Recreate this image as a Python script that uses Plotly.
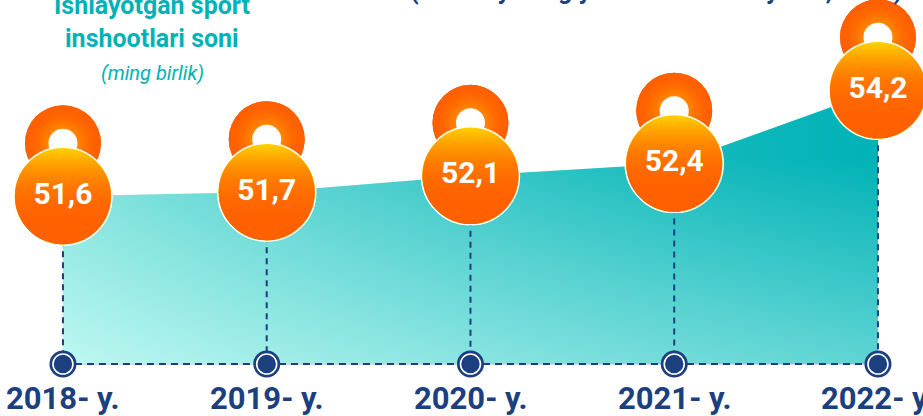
import plotly.graph_objects as go

years = ["2018- y.", "2019- y.", "2020- y.", "2021- y.", "2022- y."]
values = [51.6, 51.7, 52.1, 52.4, 54.2]
value_labels = ["51,6", "51,7", "52,1", "52,4", "54,2"]

title_lines = ["Ishlayotgan sport", "inshootlari soni"]
unit_text = "(ming birlik)"
note_text = "(har bir yilning yil oxiri holati bo'yicha, dona)"

# layout helpers (not data)
base = 47.48          # baseline level of the area
handle_dy = 1.30      # kettlebell handle sits above the body
navy = "#1b3f7f"
teal = "#00b2b5"
font = "Roboto"

xs = list(range(len(values)))
n = len(xs)


def baseline(**kw):
    return go.Scatter(x=[xs[0], xs[-1]], y=[base, base], mode="lines",
                      hoverinfo="skip", **kw)


def area(grad):
    return go.Scatter(x=xs, y=values, mode="lines", line=dict(width=0),
                      fill="tonexty", fillgradient=grad, hoverinfo="skip")


fig = go.Figure()

# area: teal going left->right, lighter towards the bottom left
fig.add_trace(baseline(line=dict(color="#b9c4c8", width=1)))
fig.add_trace(area(dict(type="horizontal",
                        colorscale=[[0, "#7fe2dc"], [1, "#00b2b6"]])))
fig.add_trace(baseline(line=dict(width=0)))
fig.add_trace(area(dict(type="vertical", start=base, stop=52.5,
                        colorscale=[[0, "rgba(210,255,248,0.75)"],
                                    [1, "rgba(210,255,248,0)"]])))
fig.add_trace(baseline(line=dict(width=0)))
fig.add_trace(area(dict(type="horizontal",
                        colorscale=[[0, "rgba(0,178,182,0)"],
                                    [1, "rgba(0,178,182,0.4)"]])))

# dashed drop lines
drop_x, drop_y = [], []
for x, v in zip(xs, values):
    drop_x += [x, x, None]
    drop_y += [v, base, None]
fig.add_trace(go.Scatter(
    x=drop_x, y=drop_y, mode="lines",
    line=dict(color=navy, width=2, dash="6px,5px"), hoverinfo="skip"
))
fig.add_trace(baseline(line=dict(color=navy, width=2, dash="7px,5px")))

# baseline dots
fig.add_trace(go.Scatter(
    x=xs, y=[base] * n, mode="markers",
    marker=dict(size=27, color=navy), hoverinfo="skip"
))
fig.add_trace(go.Scatter(
    x=xs, y=[base] * n, mode="markers",
    marker=dict(size=20, color=navy, line=dict(color="white", width=1.6)),
    hoverinfo="skip"
))

# kettlebells: handle ring, hole, body
handle_y = [v + handle_dy for v in values]
fig.add_trace(go.Scatter(
    x=xs, y=handle_y, mode="markers",
    marker=dict(size=76, color="#ff5f00",
                gradient=dict(type="radial", color="#ffc800")),
    hoverinfo="skip"
))
fig.add_trace(go.Scatter(
    x=xs, y=handle_y, mode="markers",
    marker=dict(size=76, color="rgba(255,95,0,1)",
                gradient=dict(type="radial", color="rgba(255,95,0,0)")),
    hoverinfo="skip"
))
fig.add_trace(go.Scatter(
    x=xs, y=handle_y, mode="markers",
    marker=dict(size=29, color="white"),
    hoverinfo="skip"
))
fig.add_trace(go.Scatter(
    x=xs, y=values, mode="markers",
    marker=dict(size=98, color="#ffd200", line=dict(color="white", width=1.5)),
    hoverinfo="skip"
))
for _ in range(3):
    fig.add_trace(go.Scatter(
        x=xs, y=values, mode="markers",
        marker=dict(size=96, color="rgba(255,96,0,0)",
                    gradient=dict(type="vertical", color="rgba(255,96,0,1)")),
        hoverinfo="skip"
    ))
fig.add_trace(go.Scatter(
    x=xs, y=values, mode="text",
    text=value_labels, textposition="middle center",
    textfont=dict(family=font, size=30, color="white", weight="bold"),
    hoverinfo="skip"
))

annotations = []
for x, lab in zip(xs, years):
    annotations.append(dict(
        x=x, y=base, xref="x", yref="y", yshift=-34, showarrow=False,
        text="<b>%s</b>" % lab, font=dict(family=font, size=31, color=navy)
    ))

annotations += [
    dict(x=152, y=6, text="<b>%s</b>" % title_lines[0]),
    dict(x=152, y=38, text="<b>%s</b>" % title_lines[1]),
]
for a in annotations[-2:]:
    a.update(font=dict(family=font, size=25, color=teal))
annotations.append(dict(x=152, y=73, text="<i>%s</i>" % unit_text,
                        font=dict(family=font, size=20, color=teal)))
annotations.append(dict(x=656, y=-9, text="<b>%s</b>" % note_text,
                        font=dict(family=font, size=25, color=navy)))

W, H = 923, 416
for a in annotations[n:]:
    a.update(xref="paper", yref="paper", x=a["x"] / W, y=1 - a["y"] / H,
             xanchor="center", yanchor="middle", showarrow=False)

fig.update_layout(
    width=W, height=H,
    margin=dict(l=0, r=0, t=0, b=0),
    paper_bgcolor="white", plot_bgcolor="white",
    showlegend=False,
    xaxis=dict(range=[-0.309, 4.221], visible=False, fixedrange=True),
    yaxis=dict(range=[46.205, 56.416], visible=False, fixedrange=True),
    annotations=annotations,
)

fig.write_html("out.html",
               config={"displayModeBar": False},
               post_script="document.body.style.margin='0';"
                           "document.body.style.overflow='hidden';")
